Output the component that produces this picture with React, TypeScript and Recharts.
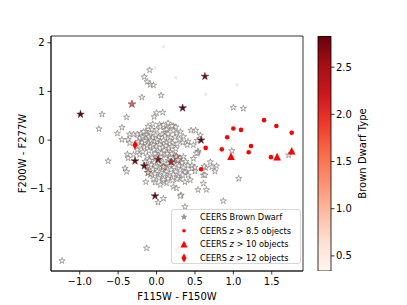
import React from "react";
import { Bar, BarChart, Legend, ReferenceArea, Scatter, ScatterChart, XAxis, YAxis } from "recharts";

const FONT = "'DejaVu Sans', Verdana, sans-serif";

// axis ranges and ticks (colour-colour diagram)
const X_RANGE: [number, number] = [-1.374, 1.907];
const Y_RANGE: [number, number] = [-2.69, 2.14];
const X_TICKS = [-1, -0.5, 0, 0.5, 1, 1.5];
const Y_TICKS = [-2, -1, 0, 1, 2];
const TYPE_RANGE: [number, number] = [0.34, 2.83];
const TYPE_TICKS = [0.5, 1, 1.5, 2, 2.5];

// matplotlib "Reds"
const REDS = ["#fff5f0", "#fee0d2", "#fcbba1", "#fc9272", "#fb6a4a", "#ef3b2c", "#cb181d", "#a50f15", "#67000d"];

// CEERS brown dwarf candidates, low type (near white)
const dwarfs: [number, number][] = [
  // sparse, upper / left
  [-0.71, 0.53], [-0.75, 0.23], [-0.45, 0.26], [-0.51, 0.14], [-0.39, 0.47], [-0.19, 0.88],
  [-0.09, 1.44], [-0.16, 1.3], [-0.12, 1.2], [-0.08, 1.14], [-0.04, 1.13], [0.06, 0.92],
  [0.0, 0.56], [0.08, 0.57], [-0.03, 0.48], [0.04, 0.32], [-0.11, 0.28], [-0.14, 0.18],
  [0.22, 0.29], [0.11, 0.21], [0.15, 0.24], [0.45, 0.2], [0.51, 0.2], [1.0, 0.67], [1.13, 0.65],
  [0.57, 0.1], [0.31, 0.17], [0.25, 0.27], [-0.35, 0.12], [-0.3, 0.12], [-0.45, 0.01],
  [-0.37, 0.01], [-0.35, -0.06], [-0.63, -0.43], [-0.38, -0.29], [-0.37, -0.37], [-0.41, -0.58],
  [-0.39, -0.65], [-0.3, -0.3], [-0.22, -0.3],
  // right of the clump
  [0.41, -0.03], [0.48, -0.1], [0.54, -0.23], [0.53, -0.01], [0.98, -0.22], [1.72, -0.31],
  [0.54, -0.26], [0.48, -0.38], [0.7, -0.45], [0.78, -0.53], [0.72, -0.55], [0.76, -0.64],
  [0.64, -0.57], [0.5, -0.64], [0.61, -0.72], [0.46, -0.58], [0.62, -0.54], [0.63, -0.72],
  [0.39, -0.65], [0.41, -0.72], [0.3, -0.79], [0.37, -0.86], [0.44, -0.82], [0.61, -0.89],
  [0.54, -1.02], [0.65, -1.02], [0.32, -1.13], [0.35, -0.34], [0.52, -0.27], [0.46, -0.52],
  [0.5, -0.56],
  // sparse, lower
  [-0.14, -0.86], [-0.02, -0.87], [0.05, -0.92], [0.22, -0.96], [0.26, -0.99], [0.31, -1.15],
  [0.09, -1.2], [0.02, -1.28], [-0.13, -2.22], [-1.23, -2.48], [0.37, -1.37], [0.87, -1.25],
  [1.07, -0.79], [0.28, -2.27], [0.13, -0.88], [0.09, -0.84],
  // upper clump
  [-0.25, 0.12], [-0.2, 0.14], [-0.17, 0.17], [-0.13, 0.1], [-0.08, 0.15], [-0.06, 0.22],
  [0.0, 0.21], [0.05, 0.27], [0.09, 0.31], [0.13, 0.22], [0.2, 0.29], [0.22, 0.19], [0.26, 0.14],
  [0.35, 0.07], [-0.22, 0.04], [-0.18, 0.06], [-0.14, 0.03], [-0.1, 0.07], [-0.05, 0.05],
  [-0.01, 0.1], [0.03, 0.06], [0.07, 0.12], [0.11, 0.08], [0.15, 0.13], [0.18, 0.05], [0.24, 0.06],
  [0.3, 0.02], [-0.24, -0.03], [-0.19, -0.05], [-0.15, -0.02], [-0.11, -0.06], [-0.07, -0.01],
  [-0.03, -0.04], [0.01, 0.0], [0.05, -0.03], [0.09, -0.01], [0.13, -0.05], [0.17, -0.02],
  [0.21, -0.06], [0.27, -0.08], [0.34, -0.05], [0.4, -0.1], [-0.21, -0.12], [-0.16, -0.15],
  [-0.12, -0.11], [-0.08, -0.14], [-0.04, -0.1], [0.0, -0.13], [0.04, -0.09], [0.08, -0.15],
  [0.12, -0.12], [0.16, -0.17], [0.2, -0.13], [0.25, -0.18], [-0.1, -0.22], [-0.03, -0.2],
  [0.03, -0.24], [0.1, -0.21], [0.18, -0.25], [-0.25, -0.2], [-0.18, -0.24], [-0.05, 0.33],
  [0.15, 0.35],
  // lower clump
  [-0.12, -0.33], [-0.06, -0.36], [0.0, -0.32], [0.06, -0.35], [0.12, -0.31], [0.18, -0.36],
  [0.24, -0.32], [0.3, -0.37], [-0.15, -0.44], [-0.09, -0.42], [-0.03, -0.46], [0.03, -0.43],
  [0.09, -0.47], [0.15, -0.42], [0.21, -0.46], [0.27, -0.43], [0.33, -0.47], [0.38, -0.44],
  [-0.13, -0.53], [-0.07, -0.51], [-0.01, -0.55], [0.05, -0.52], [0.11, -0.56], [0.17, -0.52],
  [0.23, -0.56], [0.29, -0.53], [0.35, -0.57], [0.41, -0.52], [-0.11, -0.62], [-0.05, -0.6],
  [0.01, -0.64], [0.07, -0.61], [0.13, -0.65], [0.19, -0.61], [0.25, -0.65], [0.31, -0.62],
  [0.37, -0.66], [-0.08, -0.71], [-0.02, -0.69], [0.04, -0.73], [0.1, -0.7], [0.16, -0.74],
  [0.22, -0.71], [0.28, -0.75], [0.34, -0.72], [-0.04, -0.8], [0.03, -0.78], [0.09, -0.81],
  [0.15, -0.79], [0.21, -0.83], [0.27, -0.8], [0.06, -0.27], [0.14, -0.28], [-0.02, -0.28],
  [0.2, -0.28],
];

// brown dwarfs whose type puts them visibly on the colour scale: [x, y, type]
const typedDwarfs: [number, number, number][] = [
  [-0.99, 0.53, 2.8], [-0.32, 0.74, 1.65], [0.34, 0.66, 2.8], [0.63, 1.31, 2.7], [0.58, 0.0, 2.8],
  [-0.28, -0.43, 2.8], [-0.16, -0.53, 2.75], [0.02, -0.4, 2.6], [-0.02, -1.15, 2.8],
  [0.19, -0.45, 2.2], [-0.11, -0.67, 1.0], [0.26, -0.34, 0.9], [0.09, -0.55, 0.85], [0.28, -0.41, 0.8],
];

// barely visible markers
const faintDwarfs: [number, number][] = [[0.09, 1.92], [-0.02, 1.48], [0.25, 1.28], [0.64, 0.94], [1.05, 1.14]];

const z85: [number, number][] = [
  [1.4, 0.41], [1.56, 0.29], [1.76, 0.15], [1.0, 0.24], [1.1, 0.21], [0.92, 0.06],
  [1.23, -0.12], [0.85, -0.19], [0.64, -0.16], [1.2, -0.25], [1.49, -0.35], [0.58, -0.6],
];
const z10: [number, number][] = [[0.97, -0.33], [1.57, -0.34], [1.76, -0.22]];
const z12: [number, number][] = [[-0.28, -0.1]];

const toPts = (arr: number[][]) => arr.map(([x, y, t]) => ({ x, y, t }));

function hexToRgb(h: string) {
  return [1, 3, 5].map((i) => parseInt(h.slice(i, i + 2), 16));
}

function redsColor(t: number) {
  const f = Math.min(1, Math.max(0, (t - TYPE_RANGE[0]) / (TYPE_RANGE[1] - TYPE_RANGE[0])));
  const pos = f * (REDS.length - 1);
  const i = Math.min(REDS.length - 2, Math.floor(pos));
  const k = pos - i;
  const a = hexToRgb(REDS[i]);
  const b = hexToRgb(REDS[i + 1]);
  const c = a.map((v, j) => Math.round(v + (b[j] - v) * k));
  return `rgb(${c[0]},${c[1]},${c[2]})`;
}

function starPoints(cx: number, cy: number, r: number) {
  const pts: string[] = [];
  for (let i = 0; i < 10; i++) {
    const a = -Math.PI / 2 + (i * Math.PI) / 5;
    const rr = i % 2 === 0 ? r : r * 0.382;
    pts.push(`${(cx + rr * Math.cos(a)).toFixed(2)},${(cy + rr * Math.sin(a)).toFixed(2)}`);
  }
  return pts.join(" ");
}

const OpenStar = (p: any) => (
  <polygon points={starPoints(p.cx, p.cy, 3.3)} fill={REDS[0]} stroke="#666" strokeWidth={0.55} />
);
const TypedStar = (p: any) => (
  <polygon points={starPoints(p.cx, p.cy, 4.0)} fill={redsColor(p.payload.t)} stroke="#3a3a3a" strokeWidth={0.55} />
);
const FaintStar = (p: any) => (
  <polygon points={starPoints(p.cx, p.cy, 1.8)} fill="#f2f2f2" stroke="#d8d8d8" strokeWidth={0.4} />
);
const Dot = (p: any) => <circle cx={p.cx} cy={p.cy} r={2.3} fill="#ff0000" />;
const Tri = (p: any) => (
  <polygon points={`${p.cx},${p.cy - 3.8} ${p.cx + 3.8},${p.cy + 3.8} ${p.cx - 3.8},${p.cy + 3.8}`} fill="#ff0000" />
);
const Diamond = (p: any) => (
  <polygon points={`${p.cx},${p.cy - 4.6} ${p.cx + 2.7},${p.cy} ${p.cx},${p.cy + 4.6} ${p.cx - 2.7},${p.cy}`} fill="#ff0000" />
);

const fmt1 = (v: number) => (v < 0 ? "\u2212" : "") + Math.abs(v).toFixed(1);
const fmt0 = (v: number) => (v < 0 ? "\u2212" : "") + Math.abs(v).toFixed(0);

const tickStyle = { fill: "#000", fontSize: 10, fontFamily: FONT };
const lineStyle = { stroke: "#000", strokeWidth: 0.8 };

function LegendBox() {
  const rows = [
    { y: 7, label: <>CEERS Brown Dwarf</> },
    { y: 20.7, label: <>CEERS <tspan fontStyle="italic">z</tspan> &gt; 8.5 objects</> },
    { y: 34.3, label: <>CEERS <tspan fontStyle="italic">z</tspan> &gt; 10 objects</> },
    { y: 48, label: <>CEERS <tspan fontStyle="italic">z</tspan> &gt; 12 objects</> },
  ];
  return (
    <div
      style={{
        width: 130,
        height: 55,
        boxSizing: "border-box",
        border: "1px solid #d6d6d6",
        borderRadius: 3,
        background: "rgba(255,255,255,0.8)",
      }}
    >
      <svg width={128} height={53} style={{ display: "block" }}>
        <polygon points={starPoints(12, rows[0].y, 2.8)} fill="#9a9a9a" stroke="#666" strokeWidth={0.5} />
        <circle cx={12} cy={rows[1].y} r={1.8} fill="#ff0000" />
        <polygon points={`12,${rows[2].y - 3.6} 15.6,${rows[2].y + 3.2} 8.4,${rows[2].y + 3.2}`} fill="#ff0000" />
        <polygon points={`12,${rows[3].y - 4.4} 14.6,${rows[3].y} 12,${rows[3].y + 4.4} 9.4,${rows[3].y}`} fill="#ff0000" />
        {rows.map((r, i) => (
          <text key={i} x={28} y={r.y + 3} fontSize={8.2} fontFamily={FONT} fill="#000">
            {r.label}
          </text>
        ))}
      </svg>
    </div>
  );
}

function Colorbar() {
  const data = [{ name: "type", range: TYPE_RANGE }];
  return (
    <BarChart width={107} height={305} data={data} margin={{ top: 36, right: 0, bottom: 34, left: 18 }} barCategoryGap={0}>
      <defs>
        <linearGradient id="redsGrad" x1="0" y1="1" x2="0" y2="0">
          {REDS.map((c, i) => (
            <stop key={c} offset={i / (REDS.length - 1)} stopColor={c} />
          ))}
        </linearGradient>
      </defs>
      <XAxis dataKey="name" hide />
      <YAxis
        orientation="right"
        type="number"
        domain={TYPE_RANGE}
        ticks={TYPE_TICKS}
        allowDataOverflow
        width={76}
        axisLine={false}
        tickLine={lineStyle}
        tickSize={3.5}
        tickMargin={1.5}
        tick={tickStyle}
        tickFormatter={fmt1}
        label={{
          value: "Brown Dwarf Type",
          angle: -90,
          position: "insideLeft",
          offset: 31,
          fill: "#000",
          fontSize: 10,
          fontFamily: FONT,
          style: { textAnchor: "middle" },
        }}
      />
      <Bar dataKey="range" fill="url(#redsGrad)" stroke="#000" strokeWidth={0.8} isAnimationActive={false} />
    </BarChart>
  );
}

export default function App() {
  return (
    <div style={{ position: "absolute", left: 0, top: 0, width: 407, height: 305, background: "#fff" }}>
      <ScatterChart width={407} height={305} margin={{ top: 36, right: 104, bottom: 0, left: 0 }}>
        <XAxis
          type="number"
          dataKey="x"
          domain={X_RANGE}
          ticks={X_TICKS}
          allowDataOverflow
          interval={0}
          height={34}
          tickSize={3.5}
          tickMargin={3}
          tick={tickStyle}
          tickLine={lineStyle}
          axisLine={lineStyle}
          tickFormatter={fmt1}
          label={{ value: "F115W - F150W", position: "insideBottom", offset: 5, fill: "#000", fontSize: 10, fontFamily: FONT }}
        />
        <YAxis
          type="number"
          dataKey="y"
          domain={Y_RANGE}
          ticks={Y_TICKS}
          allowDataOverflow
          interval={0}
          width={51}
          tickSize={3.5}
          tickMargin={3}
          tick={tickStyle}
          tickLine={lineStyle}
          axisLine={lineStyle}
          tickFormatter={fmt0}
          label={{
            value: "F200W - F277W",
            angle: -90,
            position: "insideLeft",
            offset: 22,
            fill: "#000",
            fontSize: 10,
            fontFamily: FONT,
            style: { textAnchor: "middle" },
          }}
        />
        <Scatter data={toPts(faintDwarfs)} shape={FaintStar} isAnimationActive={false} />
        <Scatter data={toPts(dwarfs)} shape={OpenStar} isAnimationActive={false} />
        <Scatter data={toPts(typedDwarfs)} shape={TypedStar} isAnimationActive={false} />
        <Scatter data={toPts(z85)} shape={Dot} isAnimationActive={false} />
        <Scatter data={toPts(z10)} shape={Tri} isAnimationActive={false} />
        <Scatter data={toPts(z12)} shape={Diamond} isAnimationActive={false} />
        <ReferenceArea
          x1={X_RANGE[0]}
          x2={X_RANGE[1]}
          y1={Y_RANGE[0]}
          y2={Y_RANGE[1]}
          fill="none"
          stroke="#000"
          strokeWidth={0.8}
          ifOverflow="visible"
        />
        <Legend
          layout="vertical"
          align="center"
          verticalAlign="middle"
          content={() => <LegendBox />}
          wrapperStyle={{ left: 171, top: 209, width: 130, height: 55 }}
        />
      </ScatterChart>
      <div style={{ position: "absolute", left: 300, top: 0 }}>
        <Colorbar />
      </div>
    </div>
  );
}
